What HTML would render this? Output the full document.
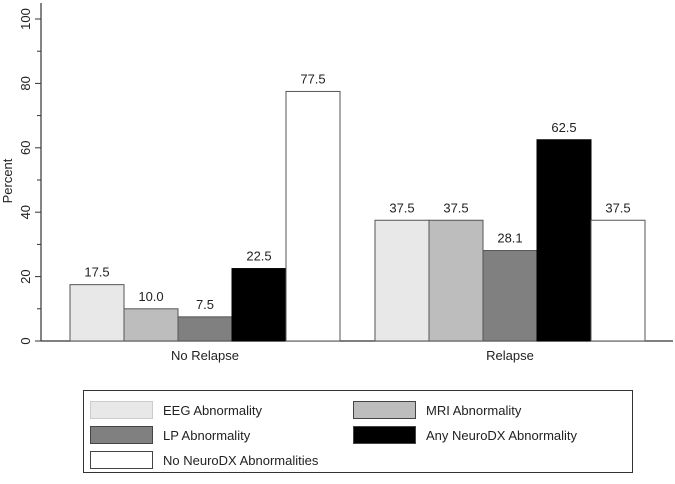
<!DOCTYPE html>
<html><head><meta charset="utf-8"><style>
body{margin:0;background:#fff;}
svg text{font-family:"Liberation Sans",Arial,sans-serif;fill:#222;}
</style></head><body>
<svg id="chart" width="675" height="479" viewBox="0 0 675 479" xmlns="http://www.w3.org/2000/svg"></svg>
<script>
const groups=["No Relapse","Relapse"];
const seriesNames=["EEG Abnormality","MRI Abnormality","LP Abnormality","Any NeuroDX Abnormality","No NeuroDX Abnormalities"];
const noRelapse=[17.5,10.0,7.5,22.5,77.5];
const relapse=[37.5,37.5,28.1,62.5,37.5];
const yTicks=[0,20,40,60,80,100];
const colors=["#e8e8e8","#bdbdbd","#808080","#000000","#ffffff"];
const svg=document.getElementById('chart');
const NS="http://www.w3.org/2000/svg";
function mk(t,a,p){const e=document.createElementNS(NS,t);for(const k in a)e.setAttribute(k,a[k]);(p||svg).appendChild(e);return e;}
const y=v=>341-v*3.22;
const groupStart=[70,375], bw=54;
const x=(g,i)=>groupStart[g]+i*bw;
// axes
let e=mk('line',{x1:41,y1:3,x2:41,y2:341,stroke:'#333','stroke-width':1.2});


e=mk('line',{x1:41,y1:341,x2:673,y2:341,stroke:'#333','stroke-width':1.2});


for(let v=0;v<=100;v+=10){
  const major=v%20===0;
  e=mk('line',{x1:major?35:37,y1:y(v),x2:41,y2:y(v),stroke:'#333','stroke-width':1});
  
  
}
yTicks.forEach(v=>{
  const t=mk('text',{x:0,y:0,'font-size':13,'text-anchor':'middle',transform:`translate(30,${y(v)}) rotate(-90)`});
  t.textContent=v;
  
  
});
e=mk('text',{'font-size':13,'text-anchor':'middle',transform:'translate(12,181) rotate(-90)'});
e.textContent='Percent';


[noRelapse,relapse].forEach((vals,g)=>{
  vals.forEach((v,i)=>{
    const r=mk('rect',{x:x(g,i),y:y(v),width:bw,height:341-y(v),fill:colors[i],stroke:i===3?'#000':'#555','stroke-width':1});
    
    
    const t=mk('text',{x:x(g,i)+bw/2,y:y(v)-8,'font-size':13,'text-anchor':'middle'});
    t.textContent=v.toFixed(1);
    
    
  });
  const t=mk('text',{x:groupStart[g]+bw*2.5,y:360,'font-size':13,'text-anchor':'middle'});
  t.textContent=groups[g];
  
  
});
// legend
e=mk('rect',{x:83.5,y:390.5,width:549,height:82,fill:'#fff',stroke:'#333','stroke-width':1});


const pos=[[90,401],[353,401],[90,426],[353,426],[90,451]];
seriesNames.forEach((n,i)=>{
  const [lx,ly]=pos[i];
  const s=mk('rect',{x:lx+0.5,y:ly+0.5,width:62,height:17,fill:colors[i],stroke:i===0?'#ccc':'#444','stroke-width':1});
  
  
  const t=mk('text',{x:lx+73,y:ly+14,'font-size':13});
  t.textContent=n;
  
  
});
</script>
</body></html>
